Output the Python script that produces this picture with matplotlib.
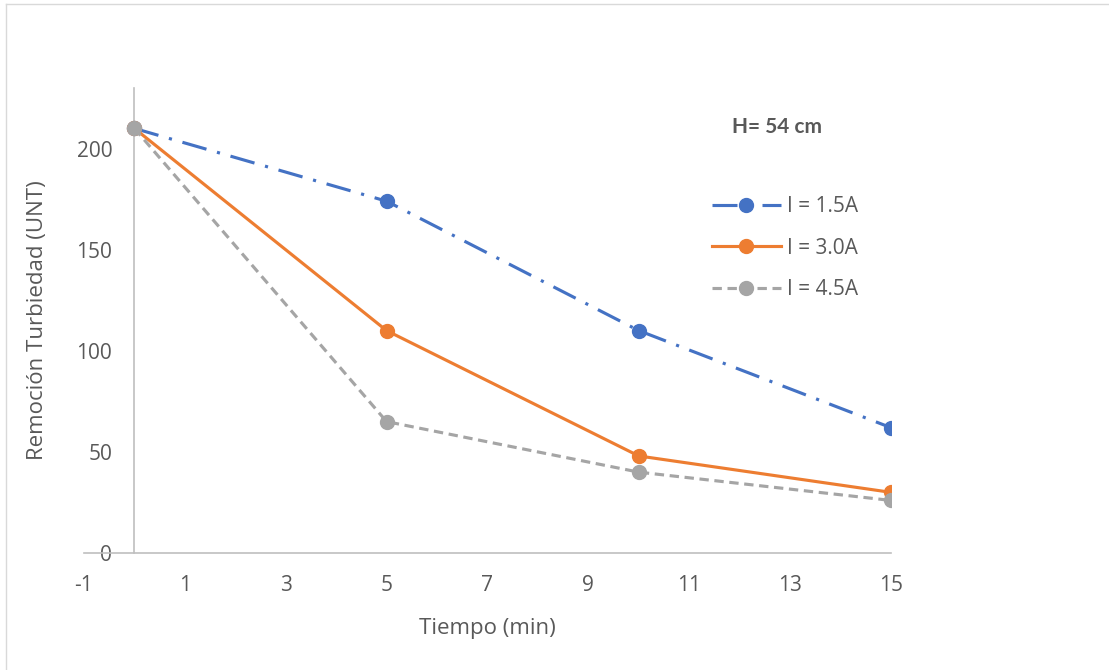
import numpy as np
import matplotlib.pyplot as plt
from matplotlib.lines import Line2D

plt.rcParams['font.family'] = ['Open Sans', 'DejaVu Sans']
plt.rcParams['axes.unicode_minus'] = False

# data
tiempo = [0, 5, 10, 15]
i_15 = [210, 174, 110, 62]
i_30 = [210, 110, 48, 30]
i_45 = [210, 65, 40, 26]
labels = ['I = 1.5A', 'I = 3.0A', 'I = 4.5A']
xticks = [-1, 1, 3, 5, 7, 9, 11, 13, 15]
yticks = [0, 50, 100, 150, 200]

txt = '#595959'
axc = '#BFBFBF'

fig = plt.figure(figsize=(11.09, 6.70), dpi=100)
ax = fig.add_axes([0.0757, 0.1746, 0.7277, 0.6941])

lw = 2.25
ax.plot(tiempo, i_15, color='#4472C4', lw=lw, marker='o', ms=10,
        dashes=(8, 3.5, 1, 3.5), label=labels[0], zorder=3)
ax.plot(tiempo, i_30, color='#ED7D31', lw=lw, marker='o', ms=10,
        label=labels[1], zorder=4)
ax.plot(tiempo, i_45, color='#A5A5A5', lw=lw, marker='o', ms=10,
        dashes=(3, 1.8), label=labels[2], zorder=5)

ax.set_xlim(-1, 15)
ax.set_ylim(0, 230)
ax.set_xticks(xticks)
ax.set_yticks(yticks)

for s in ['top', 'right']:
    ax.spines[s].set_visible(False)
ax.spines['left'].set_position(('data', 0))
ax.spines['left'].set_color(axc)
ax.spines['bottom'].set_color(axc)
ax.spines['left'].set_linewidth(1.2)
ax.spines['bottom'].set_linewidth(1.2)

ax.tick_params(axis='both', length=0, labelsize=15, labelcolor=txt)
ax.tick_params(axis='y', pad=16)
ax.tick_params(axis='x', pad=16)

ax.set_xlabel('Tiempo (min)', fontsize=16, color=txt, labelpad=16)
ax.set_ylabel('Remoción Turbiedad (UNT)', fontsize=16, color=txt)
ax.yaxis.set_label_coords(-0.044, 0.5)

leg = ax.legend(loc='upper left', bbox_to_anchor=(0.755, 0.807), frameon=False,
                fontsize=15, labelcolor=txt, handlelength=3.3, handletextpad=0.3,
                labelspacing=0.97)
ax.text(0.859, 0.915, 'H= 54 cm', transform=ax.transAxes, fontsize=15,
        fontweight='bold', color=txt, ha='center', va='center',
        family=['Lato', 'DejaVu Sans'])

# chart area border (top and left edge visible)
fig.add_artist(Line2D([0.0055, 1.0], [0.994, 0.994], color='#D9D9D9', lw=1,
                      transform=fig.transFigure))
fig.add_artist(Line2D([0.0055, 0.0055], [0.0, 0.994], color='#D9D9D9', lw=1,
                      transform=fig.transFigure))

fig.savefig('out.png', dpi=100)
